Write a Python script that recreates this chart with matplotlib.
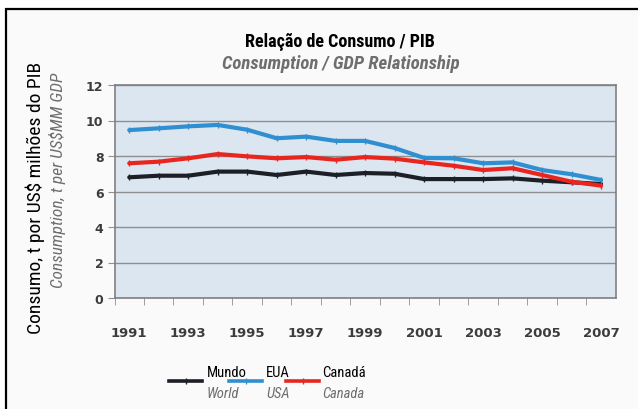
import matplotlib
matplotlib.use("Agg")
import matplotlib.pyplot as plt
from matplotlib.patches import Rectangle
from matplotlib.lines import Line2D

years = list(range(1991, 2008))
world = [6.80, 6.89, 6.89, 7.12, 7.12, 6.93, 7.12, 6.93, 7.04, 7.00,
         6.70, 6.70, 6.70, 6.74, 6.61, 6.52, 6.42]
usa = [9.46, 9.56, 9.67, 9.75, 9.48, 9.00, 9.09, 8.85, 8.85, 8.45,
       7.89, 7.87, 7.59, 7.64, 7.21, 6.97, 6.65]
canada = [7.59, 7.68, 7.87, 8.11, 7.98, 7.87, 7.94, 7.79, 7.94, 7.85,
          7.64, 7.45, 7.21, 7.31, 6.93, 6.55, 6.33]
xtick_years = list(range(1991, 2008, 2))
yticks = [0, 2, 4, 6, 8, 10, 12]

series = [
    ("Mundo", "World", world, "#1c1f26"),
    ("EUA", "USA", usa, "#2f8fd0"),
    ("Canadá", "Canada", canada, "#e8261f"),
]

COND = ["Roboto Condensed", "Liberation Sans", "DejaVu Sans"]
plt.rcParams["font.family"] = COND

W, H = 638, 410
fig = plt.figure(figsize=(W / 100, H / 100), dpi=100, facecolor="white")

# outer frame and panel
fig.patches.append(Rectangle((6 / W, -0.05), 1.1, (H - 10) / H + 0.05,
                             transform=fig.transFigure, fill=True, zorder=-5,
                             facecolor="#fafafa", edgecolor="black", lw=1.6))

ax = fig.add_axes([114.5 / W, 1 - 299 / H, (615.8 - 114.5) / W, (299 - 86) / H])
ax.set_facecolor("#dce6f1")
for s in ax.spines.values():
    s.set_color("#808080")
    s.set_linewidth(1.2)

for label, _, vals, color in series:
    ax.plot(years, vals, color=color, lw=3.0, marker="|", ms=5, mew=1.0,
            solid_capstyle="round", zorder=3)

ax.set_xlim(1990.5, 2007.5)
ax.set_ylim(0, 12)
ax.set_yticks(yticks)
ax.set_yticklabels([str(v) for v in yticks], family="DejaVu Sans",
                   fontweight="bold", fontsize=9, color="#3c3c3c")
ax.set_xticks(xtick_years)
ax.set_xticklabels([str(v) for v in xtick_years], family="DejaVu Sans",
                   fontweight="bold", fontsize=9.5, color="#3c3c3c")
ax.set_xticks([y + 0.5 for y in range(1990, 2007)], minor=True)
ax.tick_params(axis="x", which="major", length=0, pad=25)
ax.tick_params(axis="x", which="minor", length=5, color="#909090", direction="out")
ax.tick_params(axis="y", length=5, color="#909090", pad=3)
for t in ax.get_xticklabels():
    t.set_verticalalignment("center")
ax.grid(axis="y", color="#8f8f8f", lw=1.0)
ax.set_axisbelow(True)

# titles
fig.text(340 / W, 1 - 42 / H, "Relação de Consumo / PIB", ha="center", va="center",
         fontsize=13, fontweight="bold", color="black")
fig.text(341 / W, 1 - 64 / H, "Consumption / GDP Relationship", ha="center",
         va="center", fontsize=13.5, fontweight="bold", style="italic", color="#6e6e6e")

# axis titles
fig.text(35 / W, 1 - 198 / H, "Consumo, t por US$ milhões do PIB", rotation=90,
         ha="center", va="center", fontsize=14, color="black")
fig.text(58 / W, 1 - 180 / H, "Consumption, t per US$MM GDP", rotation=90,
         ha="center", va="center", fontsize=12.5, style="italic", color="#6e6e6e")

# legend
entries = [(169, 202, 207), (229, 262, 266), (286, 319, 322)]
for (x0, x1, xt), (lab, lab_en, _, color) in zip(entries, series):
    fig.add_artist(Line2D([x0 / W, x1 / W], [1 - 382 / H] * 2, color=color, lw=2.6,
                          transform=fig.transFigure))
    fig.add_artist(Line2D([(x0 + x1) / 2 / W], [1 - 382 / H], color=color,
                          marker="|", ms=4, mew=1.0, transform=fig.transFigure))
    fig.text(xt / W, 1 - 373 / H, lab, ha="left", va="center", fontsize=10.5,
             color="black")
    fig.text(xt / W, 1 - 394 / H, lab_en, ha="left", va="center", fontsize=10.5,
             style="italic", color="#6e6e6e")

fig.savefig("out.png", dpi=100, facecolor="white")
